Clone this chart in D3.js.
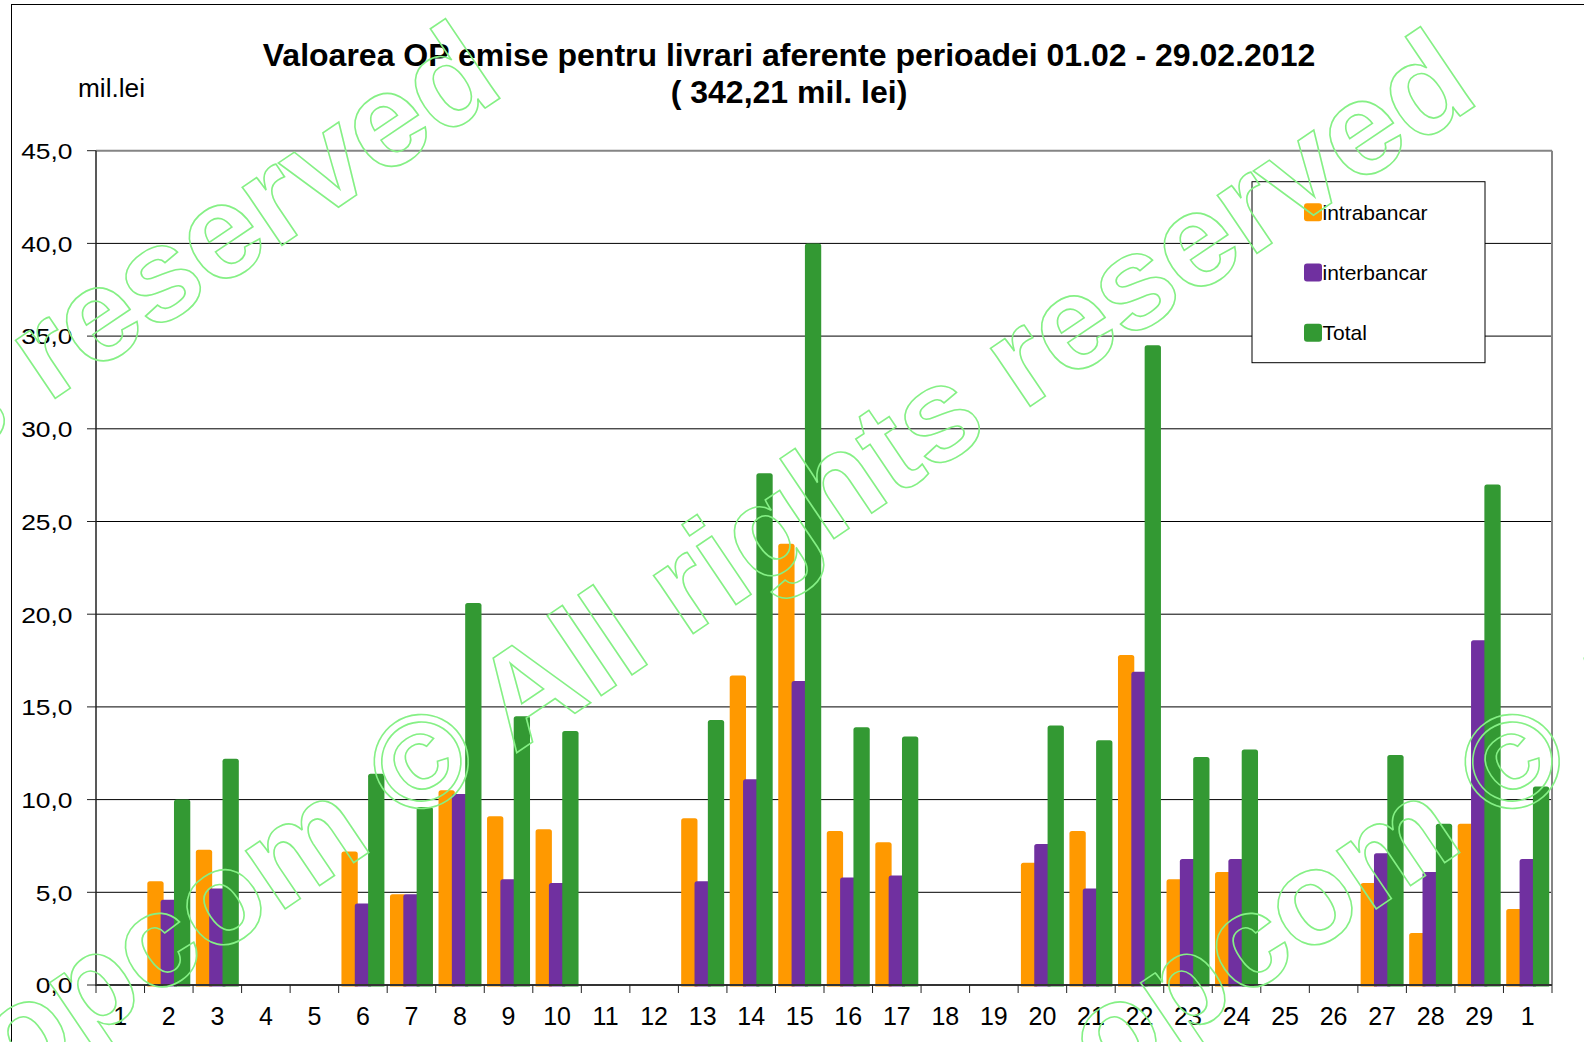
<!DOCTYPE html>
<html>
<head>
<meta charset="utf-8">
<script src="https://cdn.jsdelivr.net/npm/d3@7"></script>
<style>
  html, body { margin: 0; padding: 0; background: #fff; }
  svg { display: block; }
  text { font-family: "Liberation Sans", Arial, sans-serif; }
</style>
</head>
<body>
<svg id="chart" width="1584" height="1042"></svg>
<script>
// ---------------- data ----------------
const categories = ["1","2","3","4","5","6","7","8","9","10","11","12","13","14","15","16","17","18","19","20","21","22","23","24","25","26","27","28","29","1"];
const seriesNames = ["intrabancar", "interbancar", "Total"];
const intrabancar = [null,5.6,7.3,null,null,7.2,4.9,10.5,9.1,8.4,null,null,9.0,16.7,23.8,8.3,7.7,null,null,6.6,8.3,17.8,5.7,6.1,null,null,5.5,2.8,8.7,4.1];
const interbancar = [null,4.6,5.2,null,null,4.4,4.9,10.3,5.7,5.5,null,null,5.6,11.1,16.4,5.8,5.9,null,null,7.6,5.2,16.9,6.8,6.8,null,null,7.1,6.1,18.6,6.8];
const total       = [null,10.0,12.2,null,null,11.4,9.6,20.6,14.5,13.7,null,null,14.3,27.6,40.0,13.9,13.4,null,null,14.0,13.2,34.5,12.3,12.7,null,null,12.4,8.7,27.0,10.7];
const yTicks = [0,5,10,15,20,25,30,35,40,45];
const titleLine1 = "Valoarea OP emise pentru livrari aferente perioadei 01.02 - 29.02.2012";
const titleLine2 = "( 342,21 mil. lei)";
const unitLabel = "mil.lei";
const watermarkText = "opcom \u00A9 All rights reserved";

// ---------------- styles / layout ----------------
const colors = ["#FF9900", "#7030A0", "#339933"];
const plot = { left: 96, right: 1552, top: 150.7, bottom: 985 };

const svg = d3.select("#chart");
const fmt = d3.formatLocale({ decimal: ",", thousands: ".", grouping: [3], currency: ["", ""] }).format(".1f");

// outer frame
svg.append("rect").attr("x", 11.5).attr("y", 4.5).attr("width", 1640).attr("height", 1100)
  .attr("fill", "#fff").attr("stroke", "#000").attr("stroke-width", 1);

const x = d3.scaleBand().domain(d3.range(categories.length)).range([plot.left, plot.right]).padding(0);
const y = d3.scaleLinear().domain([0, 45]).range([plot.bottom, plot.top]);
const bw = x.bandwidth();

// gridlines
svg.append("g").selectAll("line").data(yTicks.filter(t => t > 0 && t < 45)).join("line")
  .attr("x1", plot.left).attr("x2", plot.right)
  .attr("y1", d => y(d)).attr("y2", d => y(d))
  .attr("stroke", "#000").attr("stroke-width", 1);

// plot border top & right
svg.append("line").attr("x1", plot.left).attr("x2", plot.right).attr("y1", y(45)).attr("y2", y(45))
  .attr("stroke", "#858585").attr("stroke-width", 2);
svg.append("line").attr("x1", plot.right).attr("x2", plot.right).attr("y1", y(45)).attr("y2", y(0))
  .attr("stroke", "#858585").attr("stroke-width", 2);

// bars
const series = [intrabancar, interbancar, total];
const step = bw * 0.2747, barW = bw * 0.336;
const groupW = 2 * step + barW;
const off0 = (bw - groupW) / 2;
function barPath(x0, y0, w, h, r) {
  r = Math.min(r, h / 2, w / 2);
  return `M${x0},${y0 + h}V${y0 + r}Q${x0},${y0} ${x0 + r},${y0}H${x0 + w - r}Q${x0 + w},${y0} ${x0 + w},${y0 + r}V${y0 + h}Z`;
}
const barsG = svg.append("g");
series.forEach((vals, si) => {
  barsG.append("g").selectAll("path")
    .data(vals.map((v, i) => ({ v, i })).filter(d => d.v != null))
    .join("path")
    .attr("d", d => {
      const x0 = x(d.i) + off0 + si * step;
      const top = y(d.v);
      return barPath(x0, top, barW, y(0) + 1.5 - top, 2.5);
    })
    .attr("fill", colors[si]);
});

// y axis
svg.append("line").attr("x1", plot.left).attr("x2", plot.left).attr("y1", y(45)).attr("y2", y(0) + 1)
  .attr("stroke", "#222").attr("stroke-width", 1.5);
const yAx = svg.append("g");
yAx.selectAll("line").data(yTicks).join("line")
  .attr("x1", plot.left - 9).attr("x2", plot.left).attr("y1", d => y(d)).attr("y2", d => y(d))
  .attr("stroke", "#222").attr("stroke-width", 1);
yAx.selectAll("text").data(yTicks).join("text")
  .attr("transform", d => `translate(72.5,${y(d) + 8.3}) scale(1.2,1)`)
  .attr("text-anchor", "end").attr("font-size", 22).attr("fill", "#000")
  .text(d => fmt(d));

// x axis
svg.append("line").attr("x1", plot.left).attr("x2", plot.right).attr("y1", y(0)).attr("y2", y(0))
  .attr("stroke", "#333").attr("stroke-width", 2.2);
const bounds = d3.range(categories.length + 1).map(i => plot.left + i * bw);
svg.append("g").selectAll("line").data(bounds).join("line")
  .attr("x1", d => d).attr("x2", d => d).attr("y1", y(0)).attr("y2", y(0) + 8)
  .attr("stroke", "#222").attr("stroke-width", 1);
svg.append("g").selectAll("text").data(categories).join("text")
  .attr("x", (d, i) => x(i) + bw / 2).attr("y", 1025)
  .attr("text-anchor", "middle").attr("font-size", 25).attr("fill", "#000")
  .text(d => d);

// titles
svg.append("text").attr("x", 789).attr("y", 66).attr("text-anchor", "middle")
  .attr("font-size", 32).attr("font-weight", "bold").text(titleLine1);
svg.append("text").attr("x", 789).attr("y", 103).attr("text-anchor", "middle")
  .attr("font-size", 32).attr("font-weight", "bold").text(titleLine2);
svg.append("text").attr("x", 78).attr("y", 97).attr("font-size", 25)
  .attr("textLength", 67).attr("lengthAdjust", "spacingAndGlyphs").text(unitLabel);

// legend
const lg = svg.append("g");
lg.append("rect").attr("x", 1252).attr("y", 181.7).attr("width", 233).attr("height", 181)
  .attr("fill", "#fff").attr("stroke", "#000").attr("stroke-width", 1);
const legY = [212.3, 272.6, 332.8];
seriesNames.forEach((n, i) => {
  lg.append("rect").attr("x", 1304).attr("y", legY[i] - 9).attr("width", 18).attr("height", 18)
    .attr("rx", 3).attr("fill", colors[i]);
  lg.append("text").attr("x", 1322.5).attr("y", legY[i] + 7.6).attr("font-size", 21).text(n);
});

// watermark (outlined text)
const wmG = svg.append("g");
const ang = -34, fs = 133;
const a = ang * Math.PI / 180;
const dir = [Math.cos(a), Math.sin(a)], up = [Math.sin(a), -Math.cos(a)];
function watermark(cx, cy) {
  const t = wmG.append("text").attr("font-size", fs).attr("font-weight", "bold")
    .attr("fill", "none").attr("stroke", "#85F085").attr("stroke-width", 1.6)
    .text(watermarkText);
  const L1 = t.node().getSubStringLength(0, 6);
  const Lc = t.node().getSubStringLength(6, 1);
  const s = L1 + Lc / 2;
  const sx = cx - s * dir[0] - 0.36 * fs * up[0];
  const sy = cy - s * dir[1] - 0.36 * fs * up[1];
  t.attr("transform", `translate(${sx},${sy}) rotate(${ang})`);
}
watermark(420, 760);
watermark(1511, 760);
watermark(420 - 975, 752);
</script>
</body>
</html>
